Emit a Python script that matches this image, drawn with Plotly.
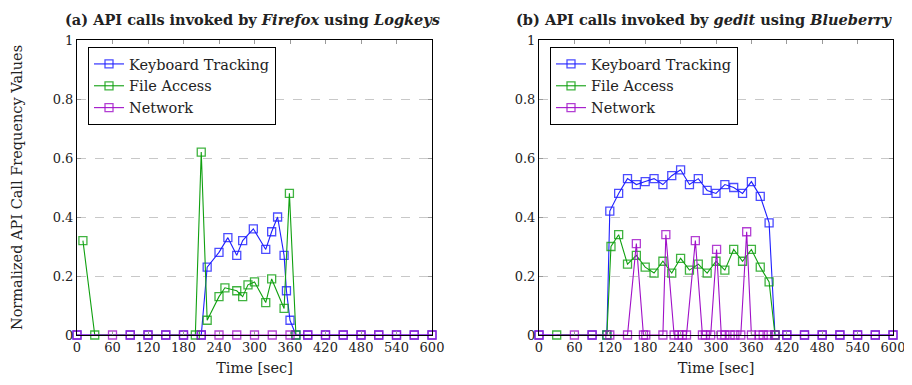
import plotly.graph_objects as go

# ---------- data: (a) Firefox / Logkeys ----------
a_kb_t = [0, 90, 120, 150, 180, 210, 220, 240, 255, 270, 280, 298, 319, 329, 339, 350, 354, 360, 370,
          390, 420, 450, 480, 510, 540, 570, 600]
a_kb_v = [0, 0, 0, 0, 0, 0, 0.23, 0.28, 0.33, 0.27, 0.32, 0.36, 0.29, 0.35, 0.40, 0.27, 0.15, 0.05, 0,
          0, 0, 0, 0, 0, 0, 0, 0]
a_fa_t = [10, 30, 200, 210, 220, 240, 250, 270, 280, 289, 300, 319, 329, 350, 359, 370]
a_fa_v = [0.32, 0, 0, 0.62, 0.05, 0.13, 0.16, 0.15, 0.13, 0.17, 0.18, 0.11, 0.19, 0.09, 0.48, 0]
a_nw_t = [0, 60, 90, 120, 150, 180, 210, 240, 270, 300, 330, 360, 390, 420, 450, 480, 510, 540, 570, 600]
a_nw_v = [0] * len(a_nw_t)

# ---------- data: (b) gedit / Blueberry ----------
b_kb_t = [0, 90, 115, 120, 135, 150, 165, 180, 195, 210, 225, 240, 255, 270, 285, 300, 315, 330, 345,
          360, 375, 390, 400, 420, 450, 480, 510, 540, 570, 600]
b_kb_v = [0, 0, 0, 0.42, 0.48, 0.53, 0.51, 0.52, 0.53, 0.51, 0.54, 0.56, 0.51, 0.53, 0.49, 0.48, 0.51,
          0.50, 0.48, 0.52, 0.47, 0.38, 0, 0, 0, 0, 0, 0, 0, 0]
b_fa_t = [30, 115, 122, 135, 150, 165, 180, 195, 210, 225, 240, 255, 270, 285, 300, 315, 330, 345, 360,
          375, 390, 400]
b_fa_v = [0, 0, 0.30, 0.34, 0.24, 0.27, 0.23, 0.21, 0.25, 0.21, 0.26, 0.22, 0.24, 0.21, 0.25, 0.22,
          0.29, 0.25, 0.29, 0.23, 0.18, 0]
b_nw_t = [0, 60, 90, 120, 150, 165, 177, 181, 210, 215, 229, 237, 243, 250, 265, 277, 282, 291, 301,
          309, 315, 324, 332, 342, 352, 360, 373, 380, 389, 400, 420, 450, 480, 510, 540, 570, 600]
b_nw_v = [0, 0, 0, 0, 0, 0.31, 0, 0, 0, 0.34, 0, 0, 0, 0, 0.32, 0, 0, 0, 0.29,
          0, 0, 0, 0, 0, 0.35, 0, 0, 0, 0, 0, 0, 0, 0, 0, 0, 0, 0]

series_names = ["Keyboard Tracking", "File Access", "Network"]
colors = ["#1f1fff", "#10a010", "#a010c8"]

x_ticks = list(range(0, 601, 60))
y_ticks = [0, 0.2, 0.4, 0.6, 0.8, 1]
y_ticklabels = ["0", "0.2", "0.4", "0.6", "0.8", "1"]

FONT = "'DejaVu Serif', 'Liberation Serif', serif"

fig = go.Figure()

panels = [
    ("x", "y", "legend", [(a_kb_t, a_kb_v), (a_fa_t, a_fa_v), (a_nw_t, a_nw_v)]),
    ("x2", "y2", "legend2", [(b_kb_t, b_kb_v), (b_fa_t, b_fa_v), (b_nw_t, b_nw_v)]),
]
for xa, ya, lg, data in panels:
    for (t, v), name, col in zip(data, series_names, colors):
        fig.add_trace(go.Scatter(
            x=t, y=v, mode="lines+markers", name=name,
            line=dict(color=col, width=1.1),
            marker=dict(symbol="square-open", size=8, color=col, opacity=0.8,
                        line=dict(width=1.3, color=col)),
            xaxis=xa, yaxis=ya, legend=lg, cliponaxis=False,
        ))

axis_common = dict(
    showline=True, linecolor="black", linewidth=1, mirror="ticks",
    ticks="inside", ticklen=4, tickcolor="#9a9a9a", tickwidth=1,
    zeroline=False, automargin=False,
    tickfont=dict(family=FONT, size=13, color="#222"),
)

# page body has an 8px margin; figure is sized to fit the window without scrollbars
OFF = 8
FW, FH = 912 - OFF, 385 - 2 * OFF
L, T = 77 - OFF, 40 - OFF
R = FW - (893 - OFF)
B = FH - (335 - OFF)
W = FW - L - R
H = FH - T - B
LBL = 14.5
fig.update_layout(
    width=FW, height=FH,
    margin=dict(l=L, r=R, t=T, b=B),
    paper_bgcolor="white", plot_bgcolor="white",
    font=dict(family=FONT, size=13, color="#222"),
    xaxis=dict(domain=[0, (432 - 77) / W], range=[0, 600], tickvals=x_ticks,
               showgrid=False, anchor="y", **axis_common,
               title=dict(text="Time [sec]", font=dict(family=FONT, size=LBL), standoff=9)),
    yaxis=dict(domain=[0, 1], range=[0, 1], tickvals=y_ticks, ticktext=y_ticklabels,
               showgrid=True, gridcolor="#c8c8c8", griddash="dash", gridwidth=1, anchor="x",
               **axis_common,
               title=dict(text="Normalized API Call Frequency Values", font=dict(family=FONT, size=LBL),
                          standoff=26)),
    xaxis2=dict(domain=[(539 - 77) / W, 1], range=[0, 600], tickvals=x_ticks,
                showgrid=False, anchor="y2", **axis_common,
                title=dict(text="Time [sec]", font=dict(family=FONT, size=LBL), standoff=9)),
    yaxis2=dict(domain=[0, 1], range=[0, 1], tickvals=y_ticks, ticktext=y_ticklabels,
                showgrid=True, gridcolor="#c8c8c8", griddash="dash", gridwidth=1, anchor="x2",
                **axis_common),
    legend=dict(x=(88 - 77) / W, y=1 - 7 / H, xanchor="left", yanchor="top", xref="paper", yref="paper",
                bordercolor="black", borderwidth=1, bgcolor="white",
                font=dict(family=FONT, size=LBL), tracegroupgap=0, itemwidth=30),
    legend2=dict(x=(550 - 77) / W, y=1 - 7 / H, xanchor="left", yanchor="top", xref="paper", yref="paper",
                 bordercolor="black", borderwidth=1, bgcolor="white",
                 font=dict(family=FONT, size=LBL), tracegroupgap=0, itemwidth=30),
    annotations=[
        dict(text="<b>(a) API calls invoked by <i>Firefox</i> using <i>Logkeys</i></b>",
             x=(252 - 77) / W, y=1 + 21 / H, xref="paper", yref="paper", showarrow=False,
             xanchor="center", yanchor="middle", font=dict(family=FONT, size=14.5, color="#222")),
        dict(text="<b>(b) API calls invoked by <i>gedit</i> using <i>Blueberry</i></b>",
             x=(704 - 77) / W, y=1 + 21 / H, xref="paper", yref="paper", showarrow=False,
             xanchor="center", yanchor="middle", font=dict(family=FONT, size=14.5, color="#222")),
    ],
)

fig.write_html("out.html")
